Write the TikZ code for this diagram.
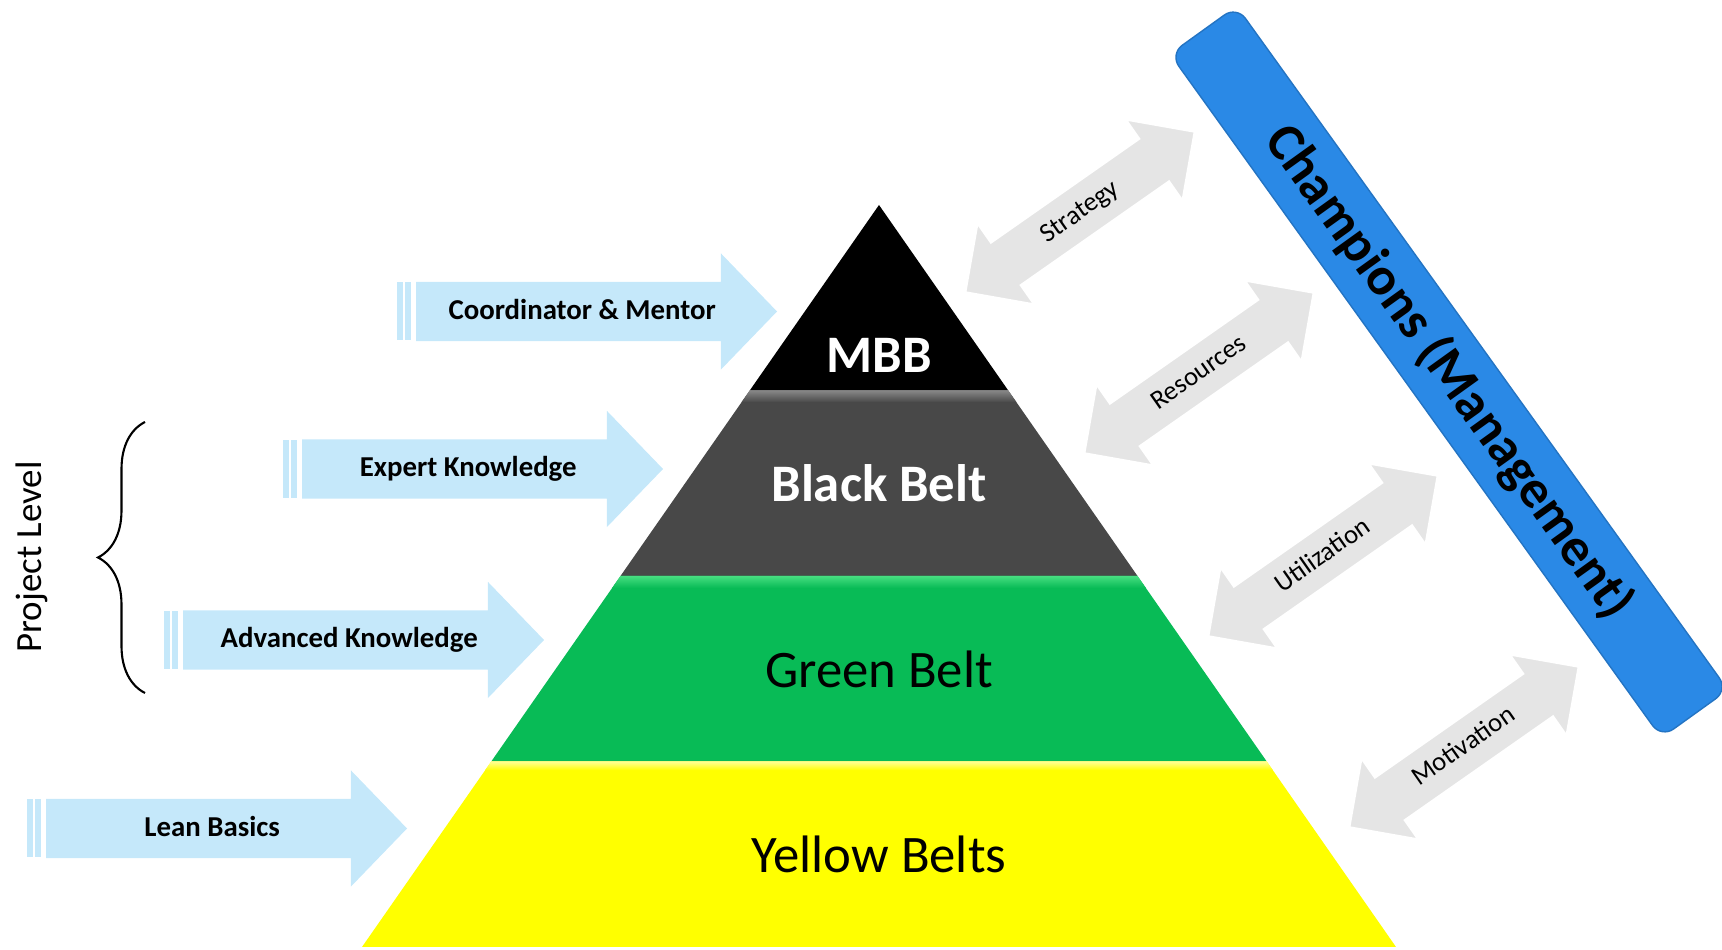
\documentclass[tikz,border=0pt]{standalone}
\usepackage{fontspec}
\setmainfont{Carlito}
\usetikzlibrary{calc,shapes.arrows,decorations.pathreplacing}

\definecolor{bbgray}{RGB}{72,72,72}
\definecolor{bbhigh}{RGB}{135,135,135}
\definecolor{gbgreen}{RGB}{8,187,86}
\definecolor{gbhigh}{RGB}{70,222,128}
\definecolor{ybyellow}{RGB}{255,255,0}
\definecolor{ybhigh}{RGB}{255,255,150}
\definecolor{arrowblue}{RGB}{197,232,250}
\definecolor{arrowgray}{RGB}{229,229,229}
\definecolor{champblue}{RGB}{42,137,230}

\begin{document}
\begin{tikzpicture}[
  bluearrow/.style={single arrow, fill=arrowblue, anchor=tip,
    single arrow head extend=0.285cm, single arrow tip angle=92,
    minimum height=3.61cm, inner xsep=2pt, inner ysep=4.4pt,
    text height=6pt, text depth=1.7pt,
    font=\fontsize{8.2}{10}\selectfont\bfseries},
  grayarrow/.style={double arrow, fill=arrowgray, draw=white, line width=0.6pt,
    rotate=35, double arrow head extend=0.235cm, minimum height=2.8cm,
    inner ysep=3.5pt, text height=5.6pt, text depth=1.6pt,
    font=\fontsize{7.6}{9}\selectfont},
  beltlabel/.style={font=\fontsize{15}{18}\selectfont},
  beltbold/.style={font=\fontsize{15}{18}\selectfont\bfseries, text=white}
]
\useasboundingbox (0,0) rectangle (17.22,9.5);

% Pyramid corners
\coordinate (apex) at (8.79,7.45);
\coordinate (bl) at (3.62,0.03);
\coordinate (br) at (13.96,0.03);

% Layers
\fill[black] (apex) -- ($(apex)!.25!(bl)$) -- ($(apex)!.25!(br)$) -- cycle;
\fill[bbgray] ($(apex)!.25!(bl)$) -- ($(apex)!.5!(bl)$)
  -- ($(apex)!.5!(br)$) -- ($(apex)!.25!(br)$) -- cycle;
\fill[gbgreen] ($(apex)!.5!(bl)$) -- ($(apex)!.75!(bl)$)
  -- ($(apex)!.75!(br)$) -- ($(apex)!.5!(br)$) -- cycle;
\fill[ybyellow] ($(apex)!.75!(bl)$) -- (bl) -- (br) -- ($(apex)!.75!(br)$) -- cycle;

% Highlights on top of each layer
\shade[top color=bbhigh, bottom color=bbgray] ($(apex)!.25!(bl)$) -- ($(apex)!.266!(bl)$)
  -- ($(apex)!.266!(br)$) -- ($(apex)!.25!(br)$) -- cycle;
\shade[top color=gbhigh, bottom color=gbgreen] ($(apex)!.5!(bl)$) -- ($(apex)!.516!(bl)$)
  -- ($(apex)!.516!(br)$) -- ($(apex)!.5!(br)$) -- cycle;
\shade[top color=ybhigh, bottom color=ybyellow] ($(apex)!.75!(bl)$) -- ($(apex)!.762!(bl)$)
  -- ($(apex)!.762!(br)$) -- ($(apex)!.75!(br)$) -- cycle;

% Belt names
\node[beltbold] (mbb) at (8.79,5.95) {MBB};
\node[beltbold] (bb) at (8.79,4.67) {Black Belt};
\node[beltlabel] (gb) at (8.79,2.81) {Green Belt};
\node[beltlabel] (yb) at (8.79,0.96) {Yellow Belts};

% Training arrows
\node[bluearrow] (coord) at (7.78,6.385) {Coordinator \& Mentor};
\node[bluearrow] (expert) at (6.64,4.81) {Expert Knowledge};
\node[bluearrow] (adv) at (5.45,3.10) {Advanced Knowledge};
\node[bluearrow] (lean) at (4.08,1.215) {Lean Basics};

% Stripes at the tails
\foreach \n in {coord,expert,adv,lean}{
  \fill[arrowblue] ([xshift=-0.18cm,yshift=-0.29cm]\n.tail) rectangle ([xshift=-0.12cm,yshift=0.29cm]\n.tail);
  \fill[arrowblue] ([xshift=-0.10cm,yshift=-0.29cm]\n.tail) rectangle ([xshift=-0.04cm,yshift=0.29cm]\n.tail);
}

% Project level brace
\draw[line width=0.6pt, decorate, decoration={brace, amplitude=0.47cm}]
  (1.45,2.57) -- (1.45,5.28);
\node[rotate=90, font=\fontsize{10.5}{12}\selectfont] (level) at (0.32,3.93) {Project Level};

% Champions bar
\node[draw=champblue!85!black, fill=champblue, rounded corners=0.15cm, rotate=-54.3,
  minimum width=8.42cm, minimum height=0.82cm,
  font=\fontsize{15.3}{18}\selectfont\bfseries] (champ) at (14.49,5.78) {Champions (Management)};

% Management support
\node[grayarrow] (strategy) at (10.80,7.38) {Strategy};
\node[grayarrow] (resources) at (11.99,5.77) {Resources};
\node[grayarrow] (utilization) at (13.23,3.94) {Utilization};
\node[grayarrow] (motivation) at (14.64,2.03) {Motivation};
\end{tikzpicture}
\end{document}
